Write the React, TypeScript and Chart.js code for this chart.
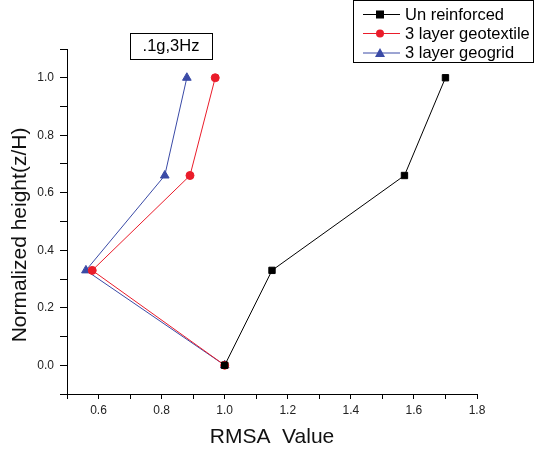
import React, { useEffect, useRef } from "react";
import { Chart, registerables } from "chart.js";
Chart.register(...registerables);

const heights = [0, 0.33, 0.66, 1.0];
const unreinforced = [1.0, 1.15, 1.57, 1.70];
const geotextile = [1.0, 0.58, 0.89, 0.97];
const geogrid = [1.0, 0.56, 0.81, 0.88];
const seriesLabels = ["Un reinforced", "3 layer geotextile", "3 layer geogrid"];
const annotationText = ".1g,3Hz";
const xTitle = "RMSA  Value";
const yTitle = "Normalized height(z/H)";

const FONT = "'Liberation Sans', Arial, sans-serif";

const toPts = (xs: number[]) => xs.map((x, i) => ({ x, y: heights[i] }));

const overlayPlugin = {
  id: "overlay",
  afterDraw(chart: any) {
    const ctx = chart.ctx as CanvasRenderingContext2D;
    const area = chart.chartArea;
    ctx.save();
    // axis titles
    ctx.fillStyle = "#111";
    ctx.font = `21px ${FONT}`;
    ctx.textAlign = "center";
    ctx.textBaseline = "middle";
    ctx.fillText(xTitle, (area.left + area.right) / 2, 437);
    ctx.save();
    ctx.translate(20, 235);
    ctx.rotate(-Math.PI / 2);
    ctx.fillText(yTitle, 0, 0);
    ctx.restore();

    // annotation box
    ctx.strokeStyle = "#000";
    ctx.lineWidth = 1;
    ctx.strokeRect(130.5, 33.5, 82, 26);
    ctx.fillStyle = "#000";
    ctx.font = `16.5px ${FONT}`;
    ctx.textAlign = "center";
    ctx.textBaseline = "middle";
    ctx.fillText(annotationText, 171, 46.5);

    // legend box
    ctx.strokeRect(353.5, 0.5, 180, 62);
    const rows = [14.5, 33.5, 53];
    chart.data.datasets.forEach((ds: any, i: number) => {
      const y = rows[i];
      ctx.strokeStyle = ds.borderColor;
      ctx.lineWidth = 1;
      ctx.beginPath();
      ctx.moveTo(363, y);
      ctx.lineTo(400, y);
      ctx.stroke();
      ctx.fillStyle = ds.pointBackgroundColor;
      const cx = 380, cy = y;
      if (ds.pointStyle === "rect") {
        ctx.fillRect(cx - 4, cy - 4, 8, 8);
      } else if (ds.pointStyle === "circle") {
        ctx.beginPath();
        ctx.arc(cx, cy, 4, 0, Math.PI * 2);
        ctx.fill();
      } else {
        ctx.beginPath();
        ctx.moveTo(cx, cy - 5);
        ctx.lineTo(cx + 5, cy + 4);
        ctx.lineTo(cx - 5, cy + 4);
        ctx.closePath();
        ctx.fill();
      }
      ctx.fillStyle = "#000";
      ctx.font = `16.5px ${FONT}`;
      ctx.textAlign = "left";
      ctx.textBaseline = "middle";
      ctx.fillText(ds.label, 405, y + 0.5);
    });
    ctx.restore();
  },
};

export default function App() {
  const ref = useRef<HTMLCanvasElement>(null);
  useEffect(() => {
    if (!ref.current) return;
    const chart = new Chart(ref.current, {
      type: "scatter",
      data: {
        datasets: [
          {
            label: seriesLabels[0],
            data: toPts(unreinforced),
            showLine: true,
            borderColor: "#000000",
            backgroundColor: "#000000",
            pointBackgroundColor: "#000000",
            pointBorderColor: "#000000",
            pointStyle: "rect",
            pointRadius: 4.5,
            borderWidth: 1,
          },
          {
            label: seriesLabels[1],
            data: toPts(geotextile),
            showLine: true,
            borderColor: "#ea1c2a",
            backgroundColor: "#ea1c2a",
            pointBackgroundColor: "#ea1c2a",
            pointBorderColor: "#ea1c2a",
            pointStyle: "circle",
            pointRadius: 4,
            borderWidth: 1,
          },
          {
            label: seriesLabels[2],
            data: toPts(geogrid),
            showLine: true,
            borderColor: "#3a4aa6",
            backgroundColor: "#3a4aa6",
            pointBackgroundColor: "#3a4aa6",
            pointBorderColor: "#3a4aa6",
            pointStyle: "triangle",
            pointRadius: 5,
            borderWidth: 1,
          },
        ],
      },
      options: {
        animation: false,
        responsive: false,
        maintainAspectRatio: false,
        layout: { padding: { left: 0, top: 49, right: 64, bottom: 0 } },
        plugins: { legend: { display: false }, tooltip: { enabled: false } },
        scales: {
          x: {
            type: "linear",
            min: 0.5,
            max: 1.8,
            afterFit: (s: any) => { s.height = 62; },
            ticks: {
              stepSize: 0.1,
              autoSkip: false,
              maxRotation: 0,
              color: "#222",
              font: { family: FONT, size: 12 },
              padding: 4,
              callback: (v: any) => {
                const n = Math.round(Number(v) * 10);
                return n % 2 === 0 && n >= 6 ? (n / 10).toFixed(1) : "";
              },
            },
            grid: { drawOnChartArea: false, drawTicks: true, tickLength: 5, color: "#000" },
            border: { display: true, color: "#000", width: 1 },
          },
          y: {
            type: "linear",
            min: -0.1,
            max: 1.1,
            afterFit: (s: any) => { s.width = 67; },
            ticks: {
              stepSize: 0.1,
              autoSkip: false,
              color: "#222",
              font: { family: FONT, size: 12 },
              padding: 6,
              callback: (v: any) => {
                const n = Math.round(Number(v) * 10);
                return n % 2 === 0 && n >= 0 && n <= 10 ? (n / 10).toFixed(1) : "";
              },
            },
            grid: { drawOnChartArea: false, drawTicks: true, tickLength: 7, color: "#000" },
            border: { display: true, color: "#000", width: 1 },
          },
        },
      },
      plugins: [overlayPlugin],
    });
    return () => chart.destroy();
  }, []);
  return (
    <div style={{ position: "fixed", left: 0, top: 0, width: 541, height: 456, background: "#fff" }}>
      <canvas ref={ref} width={541} height={456} style={{ width: 541, height: 456 }} />
    </div>
  );
}
